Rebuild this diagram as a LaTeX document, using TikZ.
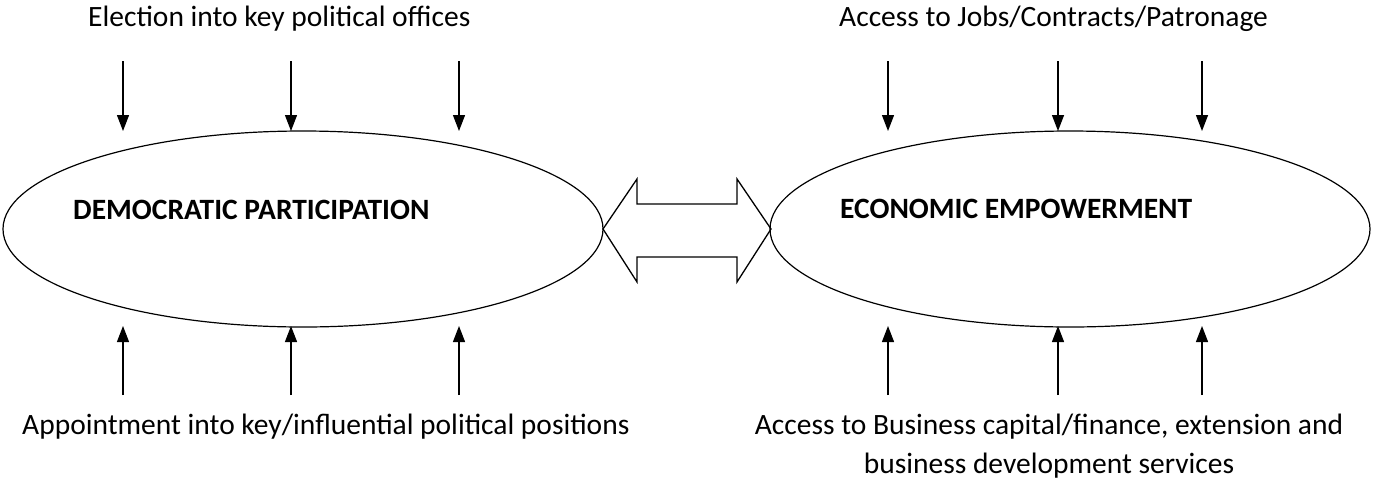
\documentclass[tikz,border=0pt]{standalone}
\usepackage{fontspec}
\setmainfont{Carlito}
\usetikzlibrary{arrows.meta,shapes.geometric}
\tikzset{
  oval/.style={draw, ellipse, line width=1.2pt, minimum width=600pt, minimum height=196pt, inner sep=0pt},
  lbl/.style={font=\fontsize{29.5}{39}\selectfont, inner sep=0pt, align=center},
  title/.style={font=\fontsize{29.5}{35}\selectfont\bfseries, inner sep=0pt},
  feed/.style={line width=1.3pt, -{Triangle[width=12pt,length=16pt]}},
  dbl/.style={draw, line width=1.3pt, line join=miter}
}
\begin{document}
\begin{tikzpicture}[x=1pt,y=-1pt]
\useasboundingbox (0,0) rectangle (1373,480);
\node[oval] (dp) at (303,229) {};
\node[oval] (ee) at (1070,229) {};
\node[title, anchor=base west] (dpt) at (73,219) {DEMOCRATIC PARTICIPATION};
\node[title, anchor=base west] (eet) at (840,218) {ECONOMIC EMPOWERMENT};
\node[lbl, anchor=base west] (t1) at (88,26) {Election into key political offices};
\node[lbl, anchor=base west] (t2) at (839,26) {Access to Jobs/Contracts/Patronage};
\node[lbl, anchor=base west] (b1) at (22,434) {Appointment into key/influential political positions};
\node[lbl, anchor=base] (b2) at (1049,473) {Access to Business capital/finance, extension and\\business development services};
\draw[dbl] (603,229) -- (637,179) -- (637,204) -- (737,204) -- (737,179) -- (771,229) -- (737,282) -- (737,257) -- (637,257) -- (637,282) -- cycle;
\foreach \i/\x in {1/123,2/291,3/459,4/888,5/1058,6/1202}{
  \coordinate (ts\i) at (\x,61);
  \coordinate (te\i) at (\x,131);
  \coordinate (bs\i) at (\x,395);
  \coordinate (be\i) at (\x,326);
  \draw[feed] (ts\i) -- (te\i);
  \draw[feed] (bs\i) -- (be\i);
}
\end{tikzpicture}
\end{document}
